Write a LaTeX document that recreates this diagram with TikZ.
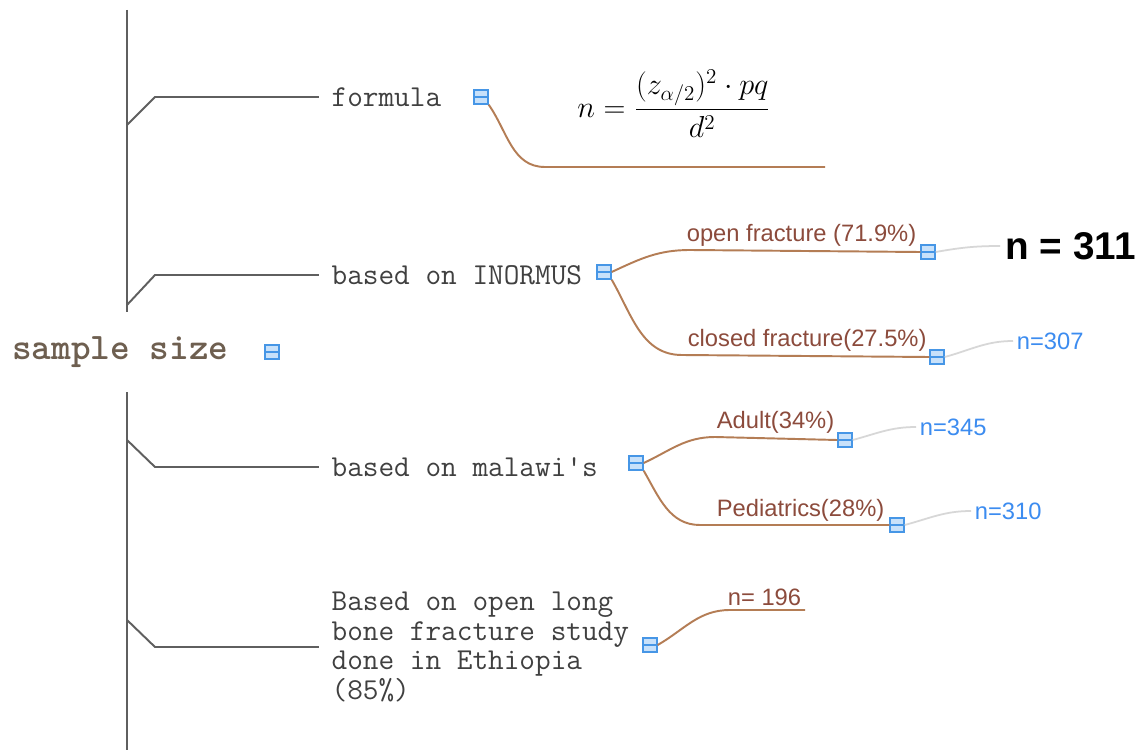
\documentclass[tikz,border=0pt]{standalone}
\usepackage{fontspec}
\setsansfont{Liberation Sans}
\usepackage{amsmath}
\definecolor{trunkgray}{RGB}{95,95,95}
\definecolor{connbrown}{RGB}{180,125,85}
\definecolor{lblbrown}{RGB}{140,75,60}
\definecolor{lightgray}{RGB}{215,215,215}
\definecolor{iconblue}{RGB}{70,150,230}
\definecolor{iconfill}{RGB}{200,225,250}
\definecolor{rootbrown}{RGB}{110,95,80}
\definecolor{nblue}{RGB}{60,140,240}
\begin{document}
\begin{tikzpicture}[x=0.02cm,y=-0.02cm,
	trunk/.style={trunkgray,line width=1.1pt},
	conn/.style={connbrown,line width=1.1pt},
	gconn/.style={lightgray,line width=1pt},
	mono/.style={font=\ttfamily\fontsize{17.3pt}{17pt}\selectfont,text=black!75,inner sep=3pt},
	lbl/.style={font=\sffamily\fontsize{13.5pt}{15pt}\selectfont,text=lblbrown,inner sep=2pt},
	nval/.style={font=\sffamily\fontsize{13.5pt}{15pt}\selectfont,text=nblue,inner sep=2pt},
	icon/.style={draw=iconblue,fill=iconfill,minimum size=0.28cm,inner sep=0pt,line width=0.8pt,
		path picture={\draw[iconblue,line width=0.8pt] (path picture bounding box.west) -- (path picture bounding box.east);}}]
	\useasboundingbox[fill=white] (0,0) rectangle (1140,750);
	% Root and trunk
	\node [font=\ttfamily\bfseries\fontsize{21.3pt}{22pt}\selectfont,text=rootbrown,anchor=west,inner sep=0pt] (root) at (12,352) {sample size};
	\node [icon] (iroot) at (272,352) {};
	\coordinate (ttop) at (127,10); \coordinate (tmidA) at (127,312);
	\coordinate (tmidB) at (127,392); \coordinate (tbot) at (127,752);
	\draw [trunk] (ttop) -- (tmidA);
	\draw [trunk] (tmidB) -- (tbot);
	% First level
	\node [mono,anchor=west] (formula) at (326,97) {formula};
	\node [mono,anchor=west] (inormus) at (326,275) {based on INORMUS};
	\node [mono,anchor=west] (malawi) at (326,467) {based on malawi's};
	\node [mono,anchor=west,align=left] (ethiopia) at (326,647) {Based on open long\\bone fracture study\\done in Ethiopia\\(85\%)};
	\draw [trunk,shorten >=4pt] (127,125) -- (155,97) -- (formula.west);
	\draw [trunk,shorten >=4pt] (127,305) -- (155,275) -- (inormus.west);
	\draw [trunk,shorten >=4pt] (127,440) -- (155,467) -- (malawi.west);
	\draw [trunk,shorten >=4pt] (127,620) -- (155,647) -- (ethiopia.west);
	\node [icon] (iformula) at (481,97) {};
	\node [icon] (iinormus) at (604,272) {};
	\node [icon] (imalawi) at (636,463) {};
	\node [icon] (iethiopia) at (650,645) {};
	% Formula
	\node [font=\fontsize{18pt}{22pt}\selectfont] (eq) at (674,104) {$n = \dfrac{(z_{\alpha/2})^2\cdot pq}{d^2}$};
	\coordinate (eqL) at (545,167); \coordinate (eqR) at (825,167);
	\draw [conn] (iformula.south east) to[out=-55,in=180] (eqL) -- (eqR);
	% INORMUS
	\coordinate (openL) at (690,250); \coordinate (closedL) at (682,355);
	\node [icon] (iopen) at (928,252) {};
	\node [icon] (iclosed) at (937,357) {};
	\node [lbl,anchor=south west] (open) at (683,250) {open fracture (71.9\%)};
	\node [lbl,anchor=south west] (closed) at (684,355) {closed fracture(27.5\%)};
	\draw [conn] (iinormus.east) to[out=25,in=180] (openL) -- (iopen.west);
	\draw [conn] (iinormus.south east) to[out=-60,in=180] (closedL) -- (iclosed.west);
	\node [font=\sffamily\bfseries\fontsize{22pt}{24pt}\selectfont,anchor=west,inner sep=3pt] (n311) at (1000,246) {n = 311};
	\node [nval,anchor=west] (n307) at (1013,341) {n=307};
	\draw [gconn] (iopen.east) to[out=10,in=180] (n311.west);
	\draw [gconn] (iclosed.east) to[out=15,in=180] (n307.west);
	% Malawi
	\coordinate (adultL) at (715,437); \coordinate (pedL) at (700,525);
	\node [icon] (iadult) at (845,440) {};
	\node [icon] (iped) at (897,525) {};
	\node [lbl,anchor=south west] (adult) at (713,437) {Adult(34\%)};
	\node [lbl,anchor=south west] (ped) at (713,525) {Pediatrics(28\%)};
	\draw [conn] (imalawi.east) to[out=25,in=180] (adultL) -- (iadult.west);
	\draw [conn] (imalawi.south east) to[out=-60,in=180] (pedL) -- (iped.west);
	\node [nval,anchor=west] (n345) at (916,427) {n=345};
	\node [nval,anchor=west] (n310) at (971,511) {n=310};
	\draw [gconn] (iadult.east) to[out=15,in=180] (n345.west);
	\draw [gconn] (iped.east) to[out=15,in=180] (n310.west);
	% Ethiopia
	\coordinate (n196L) at (730,610); \coordinate (n196R) at (805,610);
	\node [lbl,anchor=south east] (n196) at (n196R) {n= 196};
	\draw [conn] (iethiopia.east) to[out=30,in=180] (n196L) -- (n196R);
\end{tikzpicture}
\end{document}
